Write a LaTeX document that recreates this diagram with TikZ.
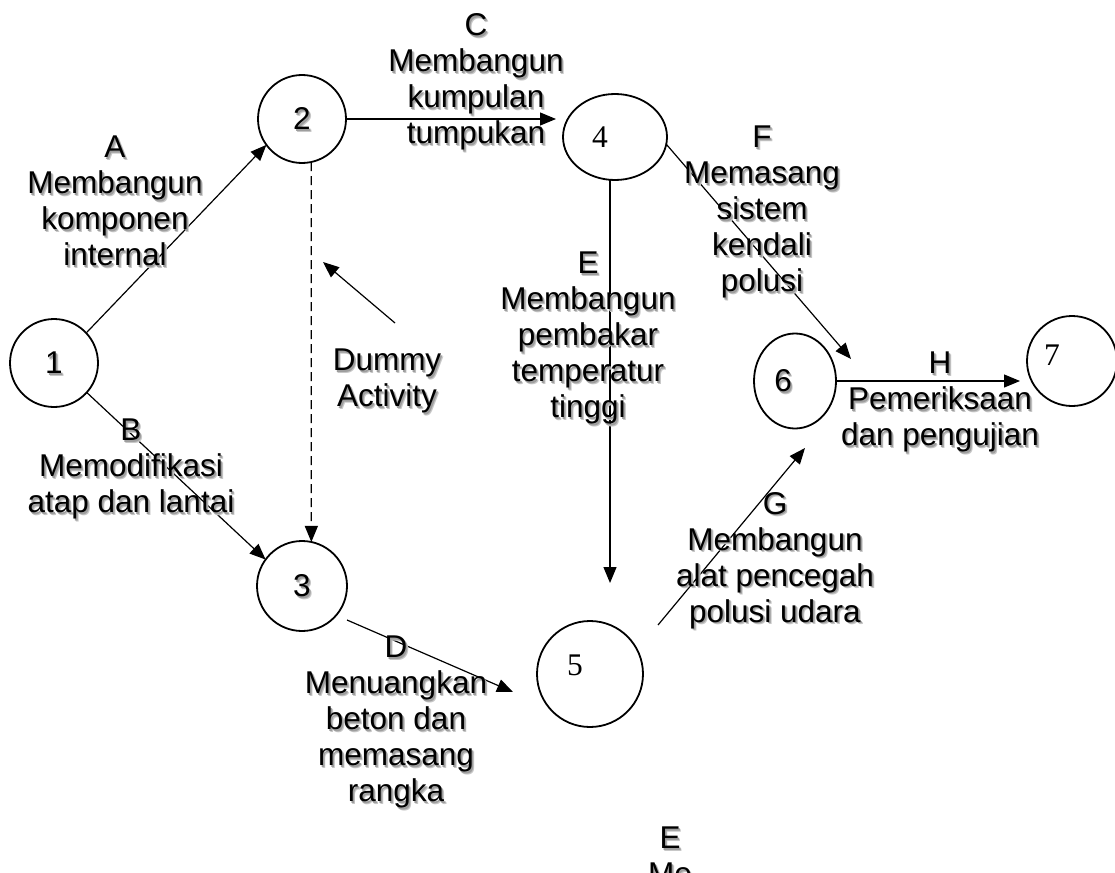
\documentclass[tikz,border=0pt]{standalone}
\usepackage{fontspec}
\setmainfont{Liberation Sans}
\newfontfamily\serifdigits{Liberation Serif}
\usetikzlibrary{arrows.meta,shapes.geometric}
% label with a soft drop shadow: name, position, text
\newcommand\shlabel[3]{%
  \node[lbl,text=black!22,xshift=2.4pt,yshift=-2.4pt] at (#2) {#3};
  \node[lbl,text=black!38,xshift=1.5pt,yshift=-1.5pt] at (#2) {#3};
  \node[lbl] (#1) at (#2) {#3};}
\begin{document}
\begin{tikzpicture}[x=1pt,y=-1pt,
  every node/.style={inner sep=0pt,outer sep=0pt},
  txt/.style={font=\fontsize{31.5}{36}\selectfont},
  sdig/.style={font=\serifdigits\fontsize{31.5}{36}\selectfont},
  evt/.style={draw,line width=1.8pt,circle,minimum size=#1,txt},
  evte/.style={draw,line width=1.8pt,ellipse,txt},
  lbl/.style={align=center,anchor=north,txt},
  dig/.style={txt},
  arr/.style={line width=1.2pt,-{Triangle[length=16pt,width=13pt]}},
  dummyline/.style={arr,dash pattern=on 9pt off 5pt},
]
\useasboundingbox (0,0) rectangle (1115,872);

% events
\node[evt=88pt] (n1) at (54,363) {};
\node[evt=88pt] (n2) at (302,119) {};
\node[evt=90pt] (n3) at (302,586) {};
\node[evte,minimum width=104pt,minimum height=86pt] (n4) at (615,137) {};
\node[evt=106pt] (n5) at (590,674) {};
\node[evte,minimum width=82pt,minimum height=95pt] (n6) at (795,381) {};
\node[evt=90pt] (n7) at (1072,361) {};

% event numbers
\foreach \nm/\x/\y/\t in {t1/54/363/1, t2/302/119/2, t3/302/586/3, t6/783/381/6}{
  \node[dig,text=black!22,xshift=2.4pt,yshift=-2.4pt] at (\x,\y) {\t};
  \node[dig,text=black!38,xshift=1.5pt,yshift=-1.5pt] at (\x,\y) {\t};
  \node[dig] (\nm) at (\x,\y) {\t};
}
\node[sdig] (t4) at (600,137) {4};
\node[sdig] (t5) at (575,665) {5};
\node[sdig] (t7) at (1052,355) {7};

% free ends
\coordinate (dS) at (347,620);
\coordinate (dT) at (513,692);
\coordinate (eT) at (610,583);
\coordinate (fT) at (851,359);
\coordinate (gS) at (658,625);
\coordinate (gT) at (805,448);
\coordinate (hT) at (1020,381);
\coordinate (pS) at (395,323);
\coordinate (pT) at (323,262);

% activities
\draw[arr] (n1.43) -- (n2.216);
\draw[arr] (n1.318) -- (n3.144);
\draw[arr,shorten >=7pt] (n2.east) -- (n2.east -| n4.west);
\draw[dummyline] (n2.282) -- (n3.78);
\draw[arr] (dS) -- (dT);
\draw[arr] (n4.south -| eT) -- (eT);
\draw[arr] (n4.-8) -- (fT);
\draw[arr] (gS) -- (gT);
\draw[arr] (n6.east) -- (hT);
\draw[arr] (pS) -- (pT);

% labels
\shlabel{la}{115,136}{A\\Membangun\\komponen\\internal}
\shlabel{lb}{131,419}{B\\Memodifikasi\\atap dan lantai}
\shlabel{lc}{476,14}{C\\Membangun\\kumpulan\\tumpukan}
\shlabel{ldum}{387,349}{Dummy\\Activity}
\shlabel{ld}{396,636}{D\\Menuangkan\\beton dan\\memasang\\rangka}
\shlabel{le}{588,252}{E\\Membangun\\pembakar\\temperatur\\tinggi}
\shlabel{lf}{762,126}{F\\Memasang\\sistem\\kendali\\polusi}
\shlabel{lg}{775,492}{G\\Membangun\\alat pencegah\\polusi udara}
\shlabel{lh}{940,352}{H\\Pemeriksaan\\dan pengujian}
\shlabel{le2}{670,827}{E\\Me}
\end{tikzpicture}
\end{document}
